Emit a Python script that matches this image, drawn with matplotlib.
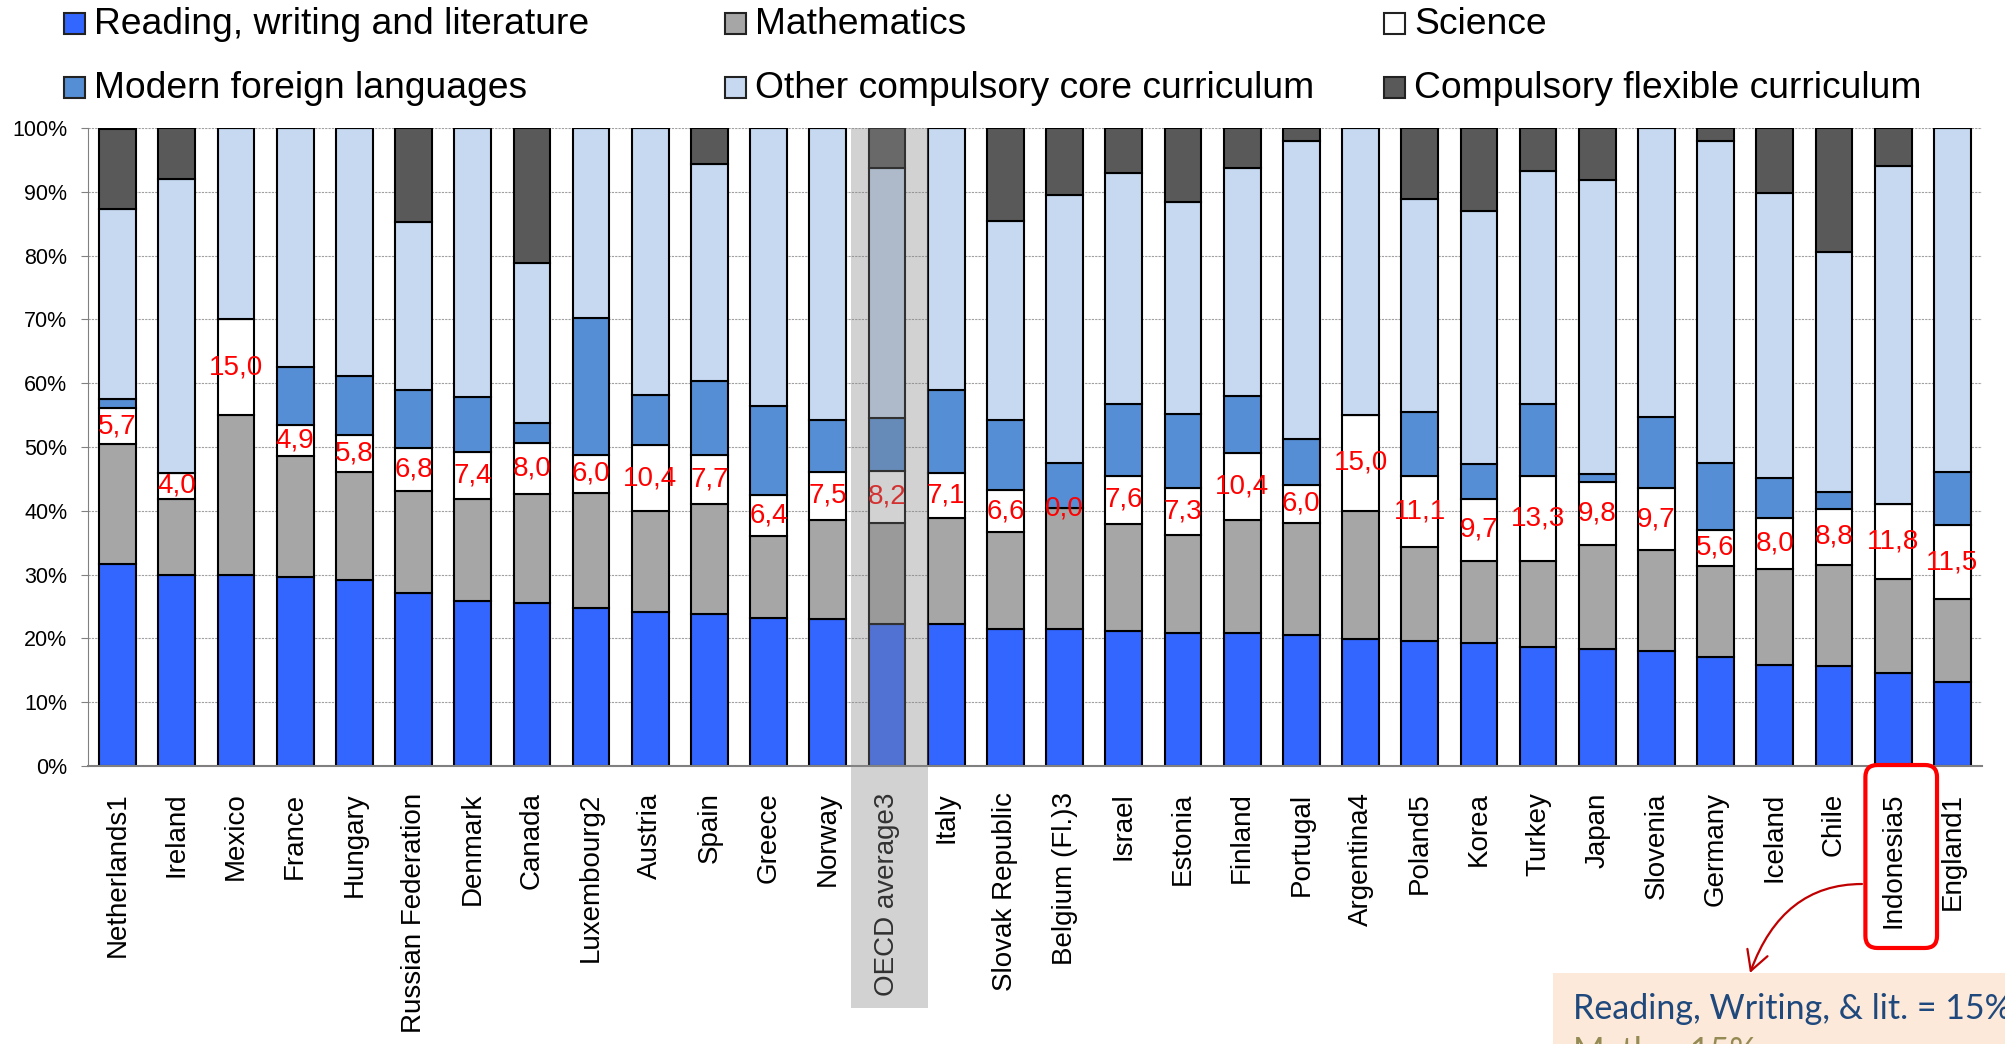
import numpy as np
import matplotlib.pyplot as plt
from matplotlib.patches import Rectangle, FancyBboxPatch, FancyArrowPatch
from matplotlib.transforms import blended_transform_factory

plt.rcParams['font.family'] = ['Liberation Sans', 'DejaVu Sans']

countries = ['Netherlands1', 'Ireland', 'Mexico', 'France', 'Hungary',
             'Russian Federation', 'Denmark', 'Canada', 'Luxembourg2', 'Austria',
             'Spain', 'Greece', 'Norway', 'OECD average3', 'Italy',
             'Slovak Republic', 'Belgium (Fl.)3', 'Israel', 'Estonia', 'Finland',
             'Portugal', 'Argentina4', 'Poland5', 'Korea', 'Turkey', 'Japan',
             'Slovenia', 'Germany', 'Iceland', 'Chile', 'Indonesia5', 'England1']

# percent of compulsory instruction time
reading = [31.7, 29.9, 30.0, 29.7, 29.2, 27.1, 25.8, 25.5, 24.8, 24.2, 23.8, 23.2, 23.0, 22.2, 22.2, 21.5,
           21.4, 21.1, 20.8, 20.8, 20.6, 19.9, 19.6, 19.3, 18.7, 18.3, 18.1, 17.1, 15.9, 15.6, 14.5, 13.2]
math = [18.7, 12.0, 25.0, 18.9, 16.9, 16.0, 16.0, 17.1, 18.0, 15.7, 17.3, 12.9, 15.6, 15.9, 16.6, 15.1,
        19.0, 16.8, 15.4, 17.8, 17.5, 20.1, 14.8, 12.9, 13.5, 16.4, 15.7, 14.3, 14.9, 15.9, 14.8, 13.0]
science = [5.7, 4.0, 15.0, 4.9, 5.8, 6.8, 7.4, 8.0, 6.0, 10.4, 7.7, 6.4, 7.5, 8.2, 7.1, 6.6,
           0.0, 7.6, 7.3, 10.4, 6.0, 15.0, 11.1, 9.7, 13.3, 9.8, 9.7, 5.6, 8.0, 8.8, 11.8, 11.5]
languages = [1.4, 0.0, 0.0, 9.0, 9.2, 9.0, 8.6, 3.1, 21.4, 7.9, 11.6, 13.9, 8.2, 8.2, 13.1, 11.0,
             7.1, 11.3, 11.6, 9.0, 7.2, 0.0, 10.0, 5.4, 11.2, 1.3, 11.2, 10.5, 6.3, 2.7, 0.0, 8.4]
other_core = [29.8, 46.1, 30.0, 37.5, 38.9, 26.3, 42.2, 25.2, 29.8, 41.8, 33.9, 43.6, 45.7, 39.2, 41.0, 31.2,
              42.0, 36.1, 33.3, 35.7, 46.7, 45.0, 33.4, 39.7, 36.6, 46.0, 45.3, 50.4, 44.7, 37.6, 52.9, 53.9]
flexible = [12.6, 8.0, 0.0, 0.0, 0.0, 14.8, 0.0, 21.1, 0.0, 0.0, 5.7, 0.0, 0.0, 6.3, 0.0, 14.6,
            10.5, 7.1, 11.6, 6.3, 2.0, 0.0, 11.1, 13.0, 6.7, 8.2, 0.0, 2.1, 10.2, 19.4, 6.0, 0.0]

names = ['Reading, writing and literature', 'Mathematics', 'Science',
         'Modern foreign languages', 'Other compulsory core curriculum',
         'Compulsory flexible curriculum']
colors = ['#3366FF', '#A6A6A6', '#FFFFFF', '#558ED5', '#C6D9F1', '#595959']

W, H = 2005, 1044
fig = plt.figure(figsize=(W / 100, H / 100), dpi=100)


def fx(px):
    return px / W


def fy(py):
    return 1 - py / H


ax = fig.add_axes([fx(88), fy(766), fx(1982) - fx(88), fy(128) - fy(766)])

x = np.arange(len(countries))
bottom = np.zeros(len(x))
for vals, c in zip([reading, math, science, languages, other_core, flexible], colors):
    ax.bar(x, vals, 0.62, bottom=bottom, color=c, edgecolor='black', linewidth=1.5, zorder=2)
    bottom += np.array(vals)

# science share written in the science block
for i, v in enumerate(science):
    ax.text(i, reading[i] + math[i] + v / 2, f'{v:.1f}'.replace('.', ','), color='red',
            fontsize=20, ha='center', va='center', zorder=4)

ax.set_xlim(-0.5, len(x) - 0.5)
ax.set_ylim(0, 100)
ax.set_yticks(range(0, 101, 10))
ax.set_yticklabels([f'{t}%' for t in range(0, 101, 10)], fontsize=15.5)
ax.set_xticks(x)
ax.set_xticklabels(countries, rotation=90, fontsize=20)
ax.tick_params(axis='x', length=0, pad=19)
ax.tick_params(axis='y', length=5, color='#808080', pad=10)
ax.yaxis.grid(True, linestyle=(0, (2, 1)), color='#A0A0A0', linewidth=0.8)
ax.set_axisbelow(True)
for s in ['top', 'right']:
    ax.spines[s].set_visible(False)
ax.spines['left'].set_color('#808080')
ax.spines['bottom'].set_color('#808080')
ax.spines['bottom'].set_linewidth(1.5)

# grey highlight over the OECD average column
oecd = countries.index('OECD average3')
trans = blended_transform_factory(ax.transData, fig.transFigure)
fig.add_artist(Rectangle((oecd - 0.61, fy(1008)), 1.30, fy(128) - fy(1008), transform=trans,
                         facecolor=(0.53, 0.53, 0.53), alpha=0.37, edgecolor='none', zorder=10))

# legend, 3 columns x 2 rows
leg_pos = [(64, 23), (725, 23), (1384, 23), (64, 87), (725, 87), (1384, 87)]
for (lx, ly), name, c in zip(leg_pos, names, colors):
    fig.add_artist(Rectangle((fx(lx), fy(ly + 11)), 21 / W, 21 / H, transform=fig.transFigure,
                             facecolor=c, edgecolor='#222222', linewidth=1.5))
    fig.text(fx(lx + 30), fy(ly + 1), name, fontsize=26.8, va='center', ha='left')

# callout for Indonesia
ind = countries.index('Indonesia5')
to_fig = fig.transFigure.inverted()
bx0 = to_fig.transform(ax.transData.transform((ind - 0.47, 0)))[0]
bx1 = to_fig.transform(ax.transData.transform((ind + 0.74, 0)))[0]
fig.add_artist(FancyBboxPatch((bx0, fy(948)), bx1 - bx0, fy(765) - fy(948),
                              boxstyle='round,pad=0,rounding_size=0.006', mutation_aspect=W / H,
                              transform=fig.transFigure, fill=False, edgecolor='#FF0000',
                              linewidth=3, zorder=11))

fig.add_artist(Rectangle((fx(1553), 0), 1 - fx(1553), fy(973), transform=fig.transFigure,
                         facecolor='#FDE9D9', edgecolor='none', zorder=9))
fig.add_artist(FancyArrowPatch((fx(1862), fy(884)), (fx(1750), fy(973)), transform=fig.transFigure,
                               connectionstyle='angle3,angleA=0,angleB=70',
                               arrowstyle='->,head_length=1.0,head_width=0.55', mutation_scale=14,
                               color='#C00000', linewidth=1.6, shrinkA=0, shrinkB=0, zorder=11))
fig.text(fx(1573), fy(1019), 'Reading, Writing, & lit. = 15%', fontsize=24.5, color='#1F497D',
         family=['Lato', 'DejaVu Sans'], va='baseline', zorder=12)
fig.text(fx(1573), fy(1062), 'Math = 15%', fontsize=24.5, color='#948A54',
         family=['Lato', 'DejaVu Sans'], va='baseline', zorder=12)

fig.savefig('out.png', dpi=100)
